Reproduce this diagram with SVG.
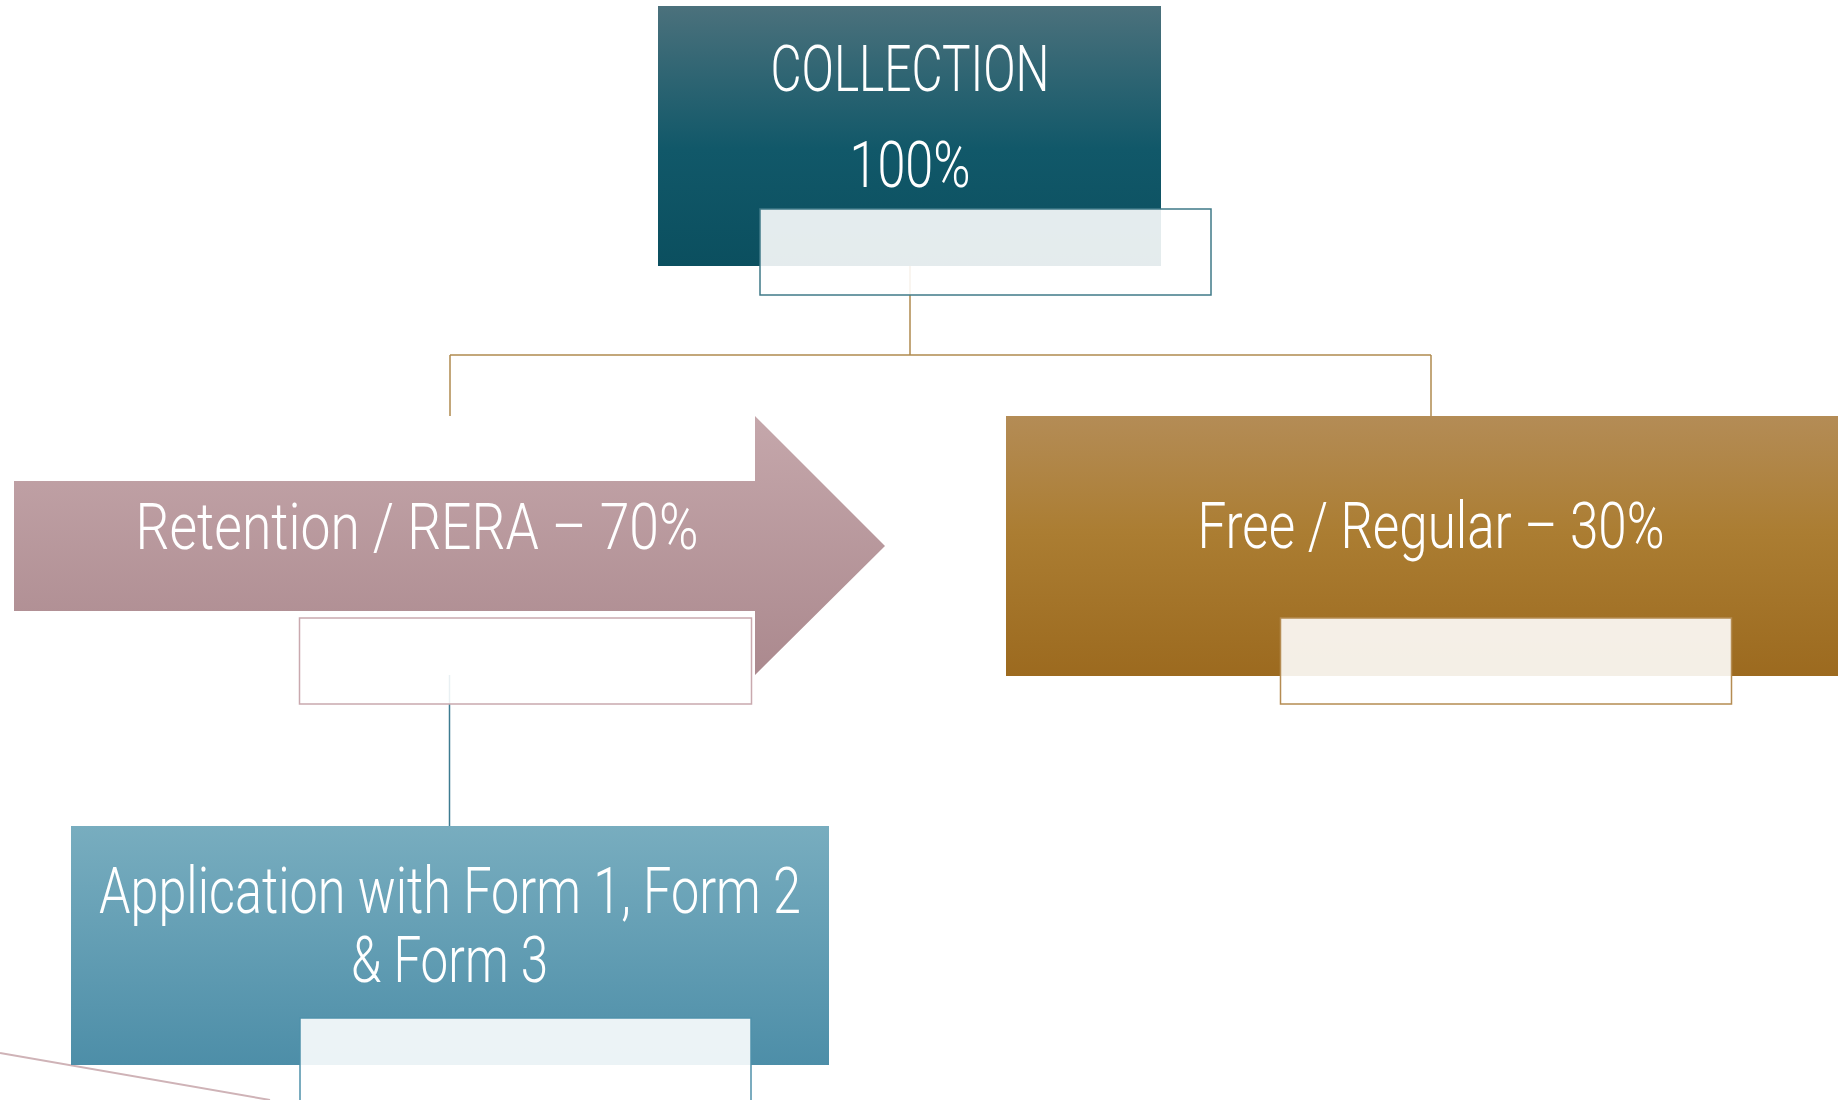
<svg xmlns="http://www.w3.org/2000/svg" width="1838" height="1100" viewBox="0 0 1838 1100">
<style>
.lbl{font-family:Roboto,"Liberation Sans",sans-serif;font-weight:300;font-size:64px;fill:#ffffff;text-anchor:middle}
.conn{fill:none;stroke-width:1.5}
.ov{fill:#ffffff;fill-opacity:0.89;stroke-width:1.5}
</style>
<defs>
<linearGradient id="gTeal" x1="0" y1="0" x2="0" y2="1">
<stop offset="0" stop-color="#4b717c"/><stop offset="0.55" stop-color="#115869"/><stop offset="1" stop-color="#0b4f5f"/>
</linearGradient>
<linearGradient id="gMauve" x1="0" y1="0" x2="0" y2="1">
<stop offset="0" stop-color="#c5a7ab"/><stop offset="1" stop-color="#ab898e"/>
</linearGradient>
<linearGradient id="gGold" x1="0" y1="0" x2="0" y2="1">
<stop offset="0" stop-color="#b48c56"/><stop offset="0.45" stop-color="#ab7d32"/><stop offset="1" stop-color="#9c6a1f"/>
</linearGradient>
<linearGradient id="gBlue" x1="0" y1="0" x2="0" y2="1">
<stop offset="0" stop-color="#78adbf"/><stop offset="1" stop-color="#4d8ea8"/>
</linearGradient>
</defs>
<rect width="1838" height="1100" fill="#ffffff"/>
<g id="connectors">
<path class="conn" stroke="#b08a4f" d="M910,266 V355 M450,355 H1431 M450,355 V416 M1431,355 V416"/>
<path class="conn" stroke="#3d7b90" d="M449.5,675 V826"/>
<path fill="none" stroke="#cfb3b7" stroke-width="2" d="M0,1053 L270,1100"/>
</g>
<g id="collection">
<rect x="658" y="6" width="503" height="260" fill="url(#gTeal)"/>
<text class="lbl" x="910" y="91" textLength="279" lengthAdjust="spacingAndGlyphs">COLLECTION</text>
<text class="lbl" x="910" y="187" textLength="121" lengthAdjust="spacingAndGlyphs">100%</text>
<rect class="ov" x="760" y="209" width="451" height="86" stroke="#3f7a88"/>
</g>
<g id="retention">
<path d="M14,481 H755 V416 L885,546 L755,675 V611 H14 Z" fill="url(#gMauve)"/>
<text class="lbl" x="417" y="549" textLength="563" lengthAdjust="spacingAndGlyphs">Retention / RERA – 70%</text>
<rect class="ov" x="299.5" y="618" width="452" height="86" stroke="#c9a9ae"/>
</g>
<g id="free">
<rect x="1006" y="416" width="832" height="260" fill="url(#gGold)"/>
<text class="lbl" x="1431" y="548" textLength="467" lengthAdjust="spacingAndGlyphs">Free / Regular – 30%</text>
<rect class="ov" x="1280.5" y="618" width="451" height="86" stroke="#b58c52"/>
</g>
<g id="application">
<rect x="71" y="826" width="758" height="239" fill="url(#gBlue)"/>
<text class="lbl" x="450" y="913" textLength="702" lengthAdjust="spacingAndGlyphs">Application with Form 1, Form 2</text>
<text class="lbl" x="449.5" y="982" textLength="197" lengthAdjust="spacingAndGlyphs">&amp; Form 3</text>
<rect class="ov" x="300" y="1018" width="451" height="100" stroke="#4f91aa"/>
</g>
</svg>
